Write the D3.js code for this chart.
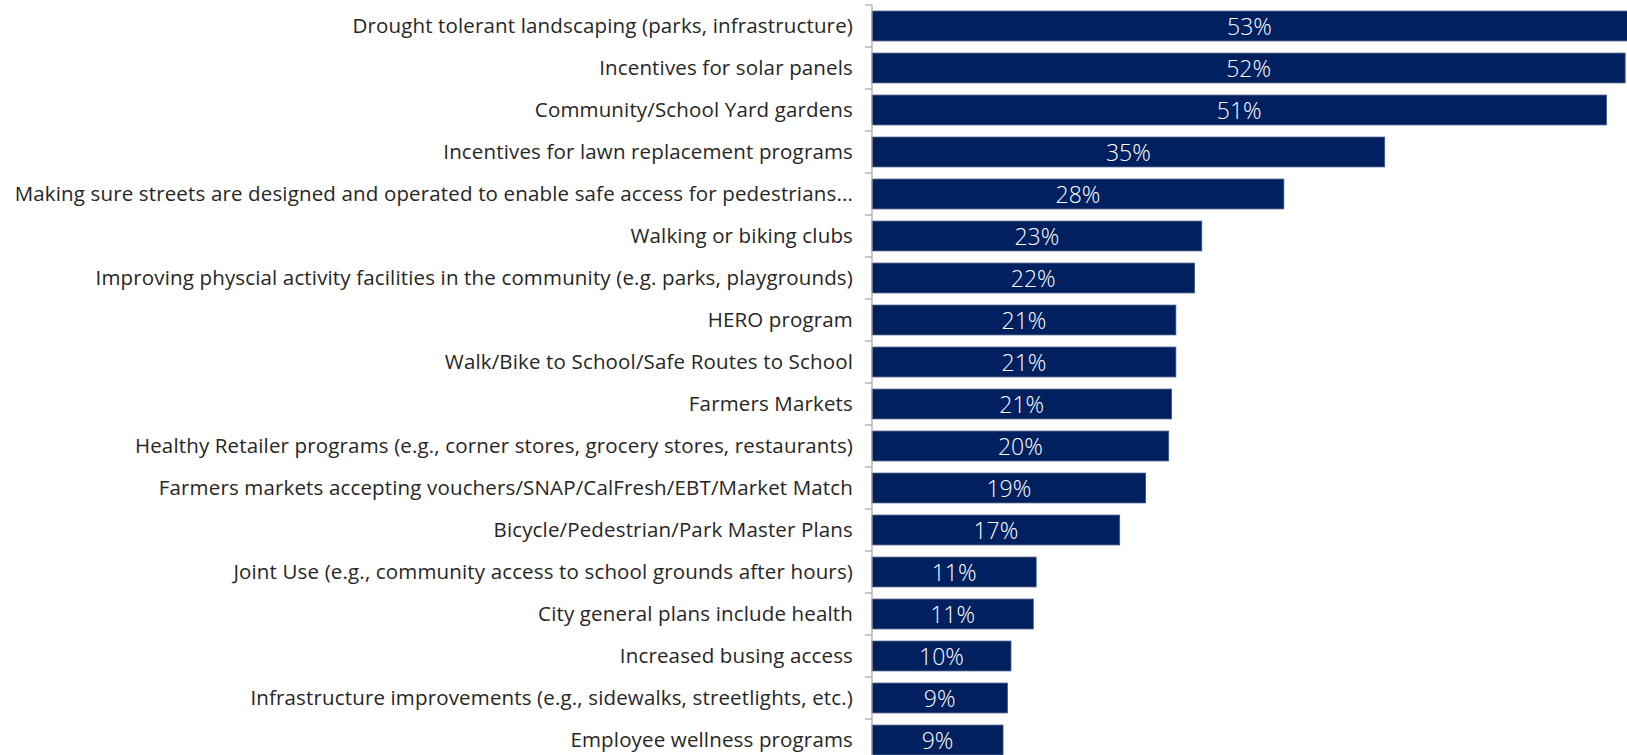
<!DOCTYPE html>
<html>
<head>
<meta charset="utf-8">
<script src="https://cdn.jsdelivr.net/npm/d3@7"></script>
<style>
  body { margin: 0; background: #fff; }
  svg { display: block; }
</style>
</head>
<body>
<div id="chart"></div>
<script>
// Categories and values (percent)
var categories = [
  "Drought tolerant landscaping (parks, infrastructure)",
  "Incentives for solar panels",
  "Community/School Yard gardens",
  "Incentives for lawn replacement programs",
  "Making sure streets are designed and operated to enable safe access for pedestrians...",
  "Walking or biking clubs",
  "Improving physcial activity facilities in the community (e.g. parks, playgrounds)",
  "HERO program",
  "Walk/Bike to School/Safe Routes to School",
  "Farmers Markets",
  "Healthy Retailer programs (e.g., corner stores, grocery stores, restaurants)",
  "Farmers markets accepting vouchers/SNAP/CalFresh/EBT/Market Match",
  "Bicycle/Pedestrian/Park Master Plans",
  "Joint Use (e.g., community access to school grounds after hours)",
  "City general plans include health",
  "Increased busing access",
  "Infrastructure improvements (e.g., sidewalks, streetlights, etc.)",
  "Employee wellness programs"
];
var values = [53.0, 52.3, 51.0, 35.6, 28.6, 22.9, 22.4, 21.1, 21.1, 20.8, 20.6, 19.0, 17.2, 11.4, 11.2, 9.65, 9.4, 9.1];
var valueLabels = ["53%", "52%", "51%", "35%", "28%", "23%", "22%", "21%", "21%", "21%", "20%", "19%", "17%", "11%", "11%", "10%", "9%", "9%"];

var width = 1627, height = 755,
    axisX = 872;

var svg = d3.select("#chart").append("svg")
    .attr("width", width)
    .attr("height", height);

var x = d3.scaleLinear().domain([0, 55]).range([axisX, axisX + 55 * 14.4]);
var y = d3.scaleBand().domain(categories).range([5, 761]).paddingInner(0.29).paddingOuter(0.145);

var barsG = svg.append("g").attr("class", "bars");
barsG.selectAll("rect.bar")
    .data(values).enter().append("rect")
    .attr("class", "bar")
    .attr("x", x(0))
    .attr("y", function(d, i) { return y(categories[i]); })
    .attr("width", function(d) { return x(d) - x(0); })
    .attr("height", y.bandwidth())
    .style("fill", "#002060")
    .style("stroke", "#3b5282")
    .style("stroke-width", 0.8);

// Value labels centered on the visible bar
barsG.selectAll("text.val")
    .data(values).enter().append("text")
    .attr("class", "val")
    .attr("x", function(d) { return (x(0) + Math.min(x(d), width)) / 2; })
    .attr("y", function(d, i) { return y(categories[i]) + y.bandwidth() / 2; })
    .attr("dy", "0.38em")
    .attr("text-anchor", "middle")
    .style("fill", "#fff")
    .style("font-family", "'Open Sans', Lato, sans-serif")
    .style("font-weight", 300)
    .style("font-size", "23px")
    .text(function(d, i) { return valueLabels[i]; });

// Category axis
var axisG = svg.append("g").attr("class", "axis");
axisG.append("line")
    .attr("x1", axisX).attr("x2", axisX)
    .attr("y1", 5).attr("y2", height)
    .style("stroke", "#a6a6a6").style("stroke-width", 1.2);

axisG.selectAll("line.tick")
    .data(categories).enter().append("line")
    .attr("class", "tick")
    .attr("x1", axisX - 7).attr("x2", axisX)
    .attr("y1", function(d) { return y(d) - y.step() * y.paddingInner() / 2; })
    .attr("y2", function(d) { return y(d) - y.step() * y.paddingInner() / 2; })
    .style("stroke", "#a6a6a6").style("stroke-width", 1.2);

axisG.selectAll("text.cat")
    .data(categories).enter().append("text")
    .attr("class", "cat")
    .attr("x", 853)
    .attr("y", function(d) { return y(d) + y.bandwidth() / 2; })
    .attr("dy", "0.36em")
    .attr("text-anchor", "end")
    .style("fill", "#262626")
    .style("font-family", "'Open Sans', Lato, sans-serif")
    .style("font-size", "20.5px")
    .style("letter-spacing", "0.15px")
    .text(function(d) { return d; });
</script>
</body>
</html>
